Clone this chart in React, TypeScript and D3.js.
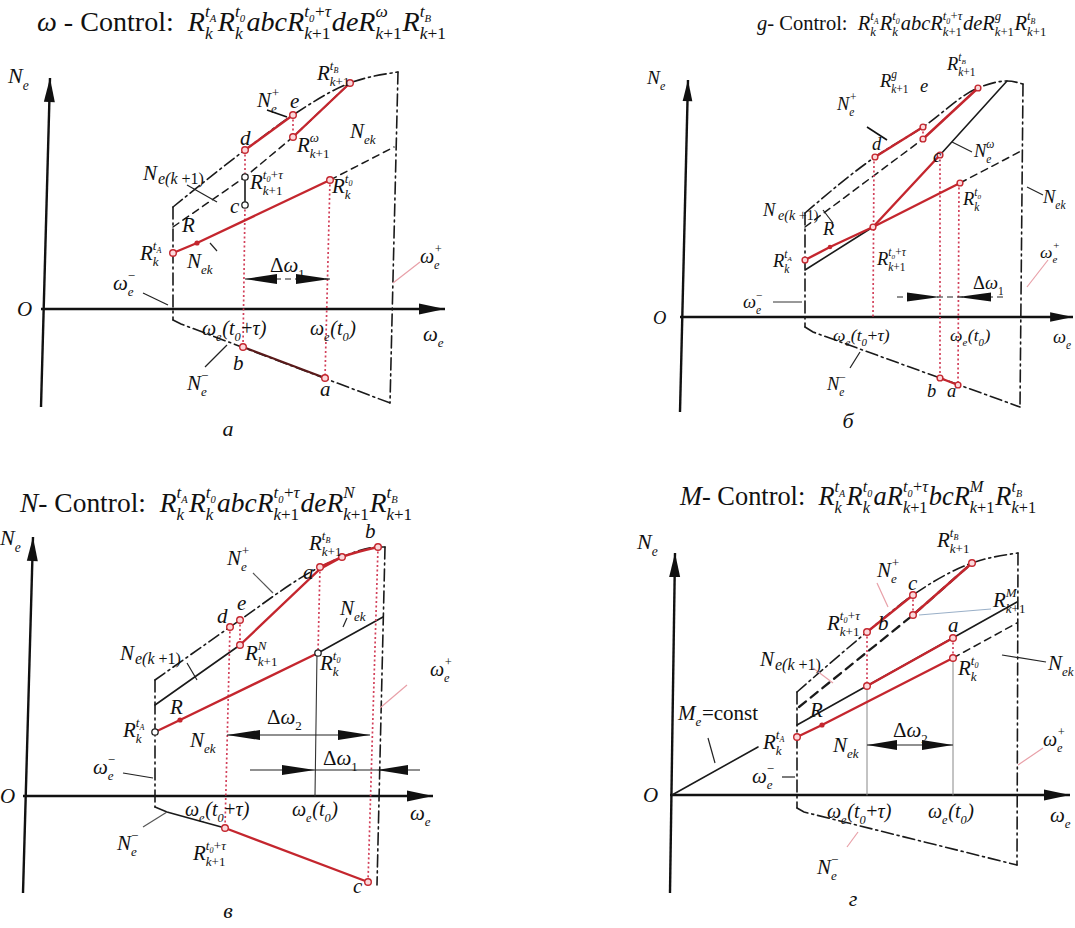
import React from 'react';
import * as d3 from 'd3';

type P = [number, number];

// ---------------- Panel а : ω-control (values in ω / N units, origin = O) ----------------
const A_upper: P[] = [[130, 102], [202, 159], [250, 194], [307, 226], [355, 237]];
const A_leftB: P[] = [[130, 102], [130, -11]];
const A_rightB: P[] = [[355, 237], [347, -94]];
const A_lower: P[] = [[130, -11], [138, -15], [347, -94]];
const A_next: P[] = [[130, 82], [202, 132], [250, 172], [307, 226]];
const A_nek: P[] = [[130, 56], [154, 66], [287, 129]];
const A_nekTail: P[] = [[287, 129], [351, 162]];
const A_redDE: P[] = [[202, 159], [250, 194]];
const A_redW: P[] = [[250, 172], [307, 226]];
const A_redBA: P[] = [[200, -38], [282, -69]];
const A_cR: P[] = [[202, 104], [202, 132]];
const A_dots: P[][] = [[[202, 159], [202, 132]], [[202, 104], [200, -38]], [[287, 129], [282, -69]], [[250, 194], [250, 172]]];
const A_openRed: P[] = [[130, 56], [287, 129], [202, 159], [250, 194], [250, 172], [307, 226], [200, -38], [282, -69]];
const A_openBlack: P[] = [[202, 104], [202, 132]];
const A_filled: P[] = [[154, 66]];

// ---------------- Panel б : g-control ----------------
const B_upper: P[] = [[122, 104], [192, 160], [240, 190], [295, 229], [324, 236], [340, 233]];
const B_leftB: P[] = [[122, 104], [122, -10]];
const B_rightB: P[] = [[340, 233], [337, -90]];
const B_lower: P[] = [[122, -10], [130, -15], [337, -90]];
const B_next: P[] = [[122, 90], [240, 178], [295, 229]];
const B_gRed: P[] = [[190, 90], [257, 162]];
const B_gBlack: P[] = [[257, 162], [324, 236]];
const B_nekRed: P[] = [[122, 57], [147, 70], [190, 90], [277, 134]];
const B_nekBlack: P[] = [[122, 47], [190, 90]];
const B_nekTail: P[] = [[277, 134], [340, 167]];
const B_redDE: P[] = [[192, 160], [240, 190]];
const B_redG: P[] = [[240, 178], [295, 229]];
const B_redBA: P[] = [[257, -61], [275, -68]];
const B_dots: P[][] = [[[191, 160], [190, 0]], [[257, 162], [257, -61]], [[276, 134], [275, -68]], [[240, 190], [240, 178]]];
const B_openRed: P[] = [[122, 57], [190, 90], [277, 134], [257, 162], [192, 160], [240, 190], [240, 178], [295, 229], [257, -61], [275, -68]];
const B_filled: P[] = [[147, 70]];

// ---------------- Panel в : N-control ----------------
const C_upper: P[] = [[130, 116], [205, 169], [215, 176], [295, 229], [317, 239], [353, 249], [360, 249]];
const C_leftB: P[] = [[130, 116], [130, -11]];
const C_rightB: P[] = [[360, 249], [352, -89]];
const C_lowerBlack: P[] = [[130, -11], [142, -16], [200, -32]];
const C_lowerRed: P[] = [[200, -32], [343, -86]];
const C_next: P[] = [[130, 91], [215, 151]];
const C_nextRed: P[] = [[215, 151], [295, 227], [317, 239]];
const C_upperRed: P[] = [[295, 229], [317, 239], [353, 249]];
const C_nekRed: P[] = [[130, 64], [155, 76], [293, 143]];
const C_nekTail: P[] = [[293, 143], [358, 179]];
const C_tick: P[] = [[292, 143], [290, 0]];
const C_dots: P[][] = [[[205, 169], [200, -32]], [[215, 176], [215, 151]], [[295, 229], [293, 143]], [[353, 249], [343, -86]]];
const C_openRed: P[] = [[295, 229], [317, 239], [353, 249], [343, -86], [200, -32], [205, 169], [215, 176], [215, 151]];
const C_openBlack: P[] = [[130, 64], [293, 143]];
const C_filled: P[] = [[155, 76]];

// ---------------- Panel г : M-control ----------------
const D_upper: P[] = [[125, 103], [195, 163], [241, 200], [300, 232], [346, 242]];
const D_leftB: P[] = [[125, 103], [125, -13]];
const D_rightB: P[] = [[346, 242], [345, -70]];
const D_lower: P[] = [[125, -13], [132, -17], [345, -70]];
const D_next: P[] = [[127, 88], [241, 180], [300, 232]];
const D_meLow: P[] = [[0, 0], [86, 48]];
const D_meHigh: P[] = [[125, 70], [345, 193]];
const D_meRed: P[] = [[195, 109], [281, 157]];
const D_nekRed: P[] = [[125, 58], [150, 70], [281, 137]];
const D_nekTail: P[] = [[281, 137], [345, 172]];
const D_redBC: P[] = [[195, 163], [241, 200]];
const D_redM: P[] = [[241, 180], [300, 232]];
const D_dots: P[][] = [[[195, 163], [195, 109]], [[241, 200], [241, 180]], [[281, 157], [281, 137]]];
const D_ticks: P[][] = [[[195, 109], [195, 0]], [[281, 137], [281, 0]]];
const D_openRed: P[] = [[125, 58], [281, 137], [281, 157], [195, 109], [195, 163], [241, 200], [241, 180], [300, 232]];
const D_filled: P[] = [[150, 70]];

// ---------------- Titles ----------------
const TITLES = [
  'ω| - Control:  |R_k^{t_A}R_k^{t_0}abcR_{k|+1|}^{t_0|+|τ}deR_{k|+1|}^ωR_{k|+1|}^{t_B}',
  'g|- Control:  |R_k^{t_A}R_k^{t_0}abcR_{k|+1|}^{t_0|+|τ}deR_{k|+1|}^gR_{k|+1|}^{t_B}',
  'N|- Control:  |R_k^{t_A}R_k^{t_0}abcR_{k|+1|}^{t_0|+|τ}deR_{k|+1|}^NR_{k|+1|}^{t_B}',
  'M|- Control:  |R_k^{t_A}R_k^{t_0}aR_{k|+1|}^{t_0|+|τ}bcR_{k|+1|}^MR_{k|+1|}^{t_B}',
];
const PANEL_LETTERS = ['а', 'б', 'в', 'г'];

// ---------------- rendering helpers ----------------
const FONT = '"Liberation Serif","Times New Roman",serif';
const RED = '#c4262e';

let _ctx: CanvasRenderingContext2D | null = null;
function measure(t: string, size: number, italic: boolean) {
  if (!_ctx) _ctx = document.createElement('canvas').getContext('2d');
  _ctx!.font = `${italic ? 'italic ' : ''}${size}px "Liberation Serif"`;
  return _ctx!.measureText(t).width;
}

type Run = { x: number; y: number; size: number; text: string; italic: boolean };
function layout(src: string, x: number, y: number, size: number, italic0: boolean, out: Run[]): number {
  let i = 0;
  let italic = italic0;
  while (i < src.length) {
    const ch = src[i];
    if (ch === '|') { italic = !italic; i++; continue; }
    if (ch === '_' || ch === '^') {
      let sub: string | null = null;
      let sup: string | null = null;
      while (i < src.length && (src[i] === '_' || src[i] === '^')) {
        const kind = src[i]; i++;
        let g: string;
        if (src[i] === '{') {
          let depth = 1; let j = i + 1;
          while (j < src.length && depth > 0) { if (src[j] === '{') depth++; else if (src[j] === '}') depth--; j++; }
          g = src.slice(i + 1, j - 1); i = j;
        } else { g = src[i]; i++; }
        if (kind === '_') sub = g; else sup = g;
      }
      const s2 = size * 0.62;
      let w1 = 0, w2 = 0;
      if (sup !== null) w1 = layout(sup, x, y - size * 0.5, s2, italic, out) - x;
      if (sub !== null) w2 = layout(sub, x, y + size * 0.3, s2, italic, out) - x;
      x += Math.max(w1, w2) + size * 0.03;
      continue;
    }
    let j = i;
    while (j < src.length && !'_^|'.includes(src[j])) j++;
    const t = src.slice(i, j);
    out.push({ x, y, size, text: t, italic });
    x += measure(t, size, italic);
    i = j;
  }
  return x;
}

function MathText({ x, y, t, size, italic = true, anchor = 'start', fill = '#111', fitWidth }:
  { x: number; y: number; t: string; size: number; italic?: boolean; anchor?: string; fill?: string; fitWidth?: number }) {
  let s = size;
  if (fitWidth) {
    const probe: Run[] = [];
    const w = layout(t, 0, 0, 20, italic, probe);
    s = (20 * fitWidth) / w;
  }
  const runs: Run[] = [];
  const end = layout(t, 0, 0, s, italic, runs);
  const shift = anchor === 'middle' ? -end / 2 : anchor === 'end' ? -end : 0;
  return (
    <g>
      {runs.map((r, i) => (
        <text key={i} x={x + r.x + shift} y={y + r.y} fontSize={r.size} fontStyle={r.italic ? 'italic' : 'normal'}
          fontFamily={FONT} fill={fill} style={{ whiteSpace: 'pre' }}>{r.text}</text>
      ))}
    </g>
  );
}

const STY: Record<string, { stroke: string; w: number; da?: string }> = {
  red: { stroke: RED, w: 2.4 },
  dark: { stroke: '#5a1a1a', w: 2.2 },
  black: { stroke: '#1a1a1a', w: 1.6 },
  thin: { stroke: '#333', w: 1.1 },
  gray: { stroke: '#888', w: 1 },
  dash: { stroke: '#1a1a1a', w: 1.5, da: '7,5' },
  bdash: { stroke: '#1a1a1a', w: 2.3, da: '9,6' },
  dashdot: { stroke: '#1a1a1a', w: 1.6, da: '12,4,2,4' },
  dot: { stroke: '#d2405a', w: 1.7, da: '2,2.5' },
};

type Seg = { pts: P[]; k: string; curve?: boolean };
type Lab = [string, number, number, number?, string?];
type Lead = [P, P, string?, number?];
type Arw = { n: number; from: number; to: number; heads: [number, number][]; dash?: boolean };
type Spec = {
  origin: [number, number];
  scale: number;
  yaxis: P[];
  xStart: number;
  xTip: number;
  segs: Seg[];
  openRed: P[];
  openBlack: P[];
  filled: P[];
  labels: Lab[];
  leaders: Lead[];
  arrows: Arw[];
  title: string;
  titleAt: [number, number, number];
  letter: string;
  letterAt: P;
};

function Panel({ spec }: { spec: Spec }) {
  const [ox, oy] = spec.origin;
  const k = spec.scale;
  const sx = d3.scaleLinear().domain([0, 100]).range([ox, ox + 100]);
  const sy = d3.scaleLinear().domain([0, 100]).range([oy, oy - 100]);
  const straight = d3.line<P>().x(d => sx(d[0])).y(d => sy(d[1]));
  const smooth = d3.line<P>().x(d => sx(d[0])).y(d => sy(d[1])).curve(d3.curveMonotoneX);

  const head = (tipX: number, tipY: number, fromX: number, fromY: number, len: number, hw: number) => {
    const dx = tipX - fromX, dy = tipY - fromY;
    const L = Math.hypot(dx, dy);
    const ux = dx / L, uy = dy / L;
    const bx = tipX - ux * len, by = tipY - uy * len;
    return `M${tipX},${tipY}L${bx - uy * hw},${by + ux * hw}L${bx + uy * hw},${by - ux * hw}Z`;
  };

  const [yb, yt] = [spec.yaxis[1], spec.yaxis[0]];
  const ytx = sx(yt[0]), yty = sy(yt[1]), ybx = sx(yb[0]), yby = sy(yb[1]);
  const xs = sx(spec.xStart), xt = sx(spec.xTip), xy = sy(0);

  return (
    <g>
      <MathText x={spec.titleAt[0]} y={spec.titleAt[1]} t={spec.title} size={22} fitWidth={spec.titleAt[2]} />
      {/* axes */}
      <line x1={ybx} y1={yby} x2={ytx} y2={yty} stroke="#111" strokeWidth={2.4} />
      <path d={head(ytx, yty, ybx, yby, 24 * k, 5.5 * k)} fill="#111" />
      <line x1={xs} y1={xy} x2={xt} y2={xy} stroke="#111" strokeWidth={2.4} />
      <path d={head(xt, xy, xs, xy, 26 * k, 5.5 * k)} fill="#111" />
      {/* curves */}
      {spec.segs.map((s, i) => {
        const st = STY[s.k];
        return (
          <path key={i} d={(s.curve ? smooth : straight)(s.pts) || ''} fill="none" stroke={st.stroke}
            strokeWidth={st.w} strokeDasharray={st.da} strokeLinecap={s.k === 'dot' ? 'butt' : 'round'} />
        );
      })}
      {/* Δω arrows */}
      {spec.arrows.map((a, i) => (
        <g key={i}>
          <line x1={sx(a.from)} y1={sy(a.n)} x2={sx(a.to)} y2={sy(a.n)} stroke="#222" strokeWidth={1.2}
            strokeDasharray={a.dash ? '6,4' : undefined} />
          {a.heads.map((h, j) => (
            <path key={j} d={head(sx(h[0]), sy(a.n), sx(h[1]), sy(a.n), Math.abs(sx(h[0]) - sx(h[1])), 5 * k)} fill="#111" />
          ))}
        </g>
      ))}
      {/* leaders */}
      {spec.leaders.map((l, i) => (
        <line key={i} x1={sx(l[0][0])} y1={sy(l[0][1])} x2={sx(l[1][0])} y2={sy(l[1][1])}
          stroke={l[2] || '#222'} strokeWidth={l[3] || 1.2} />
      ))}
      {/* points */}
      {spec.openBlack.map((p, i) => (
        <circle key={'b' + i} cx={sx(p[0])} cy={sy(p[1])} r={3.2 * k} fill="#fff" stroke="#222" strokeWidth={1.3} />
      ))}
      {spec.openRed.map((p, i) => (
        <circle key={'r' + i} cx={sx(p[0])} cy={sy(p[1])} r={3.3 * k} fill="#fbd9dc" stroke={RED} strokeWidth={1.4} />
      ))}
      {spec.filled.map((p, i) => (
        <circle key={'f' + i} cx={sx(p[0])} cy={sy(p[1])} r={2.6 * k} fill={RED} />
      ))}
      {/* labels */}
      {spec.labels.map((l, i) => (
        <MathText key={i} x={sx(l[1])} y={sy(l[2])} t={l[0]} size={(l[3] || 21) * k} anchor={l[4] || 'start'} />
      ))}
      <MathText x={sx(spec.letterAt[0])} y={sy(spec.letterAt[1])} t={spec.letter} size={22} anchor="middle" />
    </g>
  );
}

const SUPK = 'R_{k|+1|}';

const PANELS: Spec[] = [
  {
    origin: [43, 309], scale: 1, yaxis: [[7, 231], [-2, -98]], xStart: -2, xTip: 402,
    segs: [
      { pts: A_upper, k: 'dashdot', curve: true },
      { pts: A_leftB, k: 'dashdot' }, { pts: A_rightB, k: 'dashdot' }, { pts: A_lower, k: 'dashdot' },
      { pts: A_next, k: 'dash' }, { pts: A_nekTail, k: 'dash' },
      ...A_dots.map(p => ({ pts: p, k: 'dot' })),
      { pts: A_nek, k: 'red' }, { pts: A_redDE, k: 'red' }, { pts: A_redW, k: 'red' },
      { pts: A_redBA, k: 'dark' }, { pts: A_cR, k: 'black' },
    ],
    openRed: A_openRed, openBlack: A_openBlack, filled: A_filled,
    arrows: [{ n: 30, from: 202, to: 287, heads: [[202, 234], [287, 253]], dash: true }],
    leaders: [
      [[224, 199], [244, 192], '#111', 1.6], [[144, 124], [174, 107]], [[100, 16], [125, 4]],
      [[350, 26], [377, 47], '#e8a0a8'], [[162, -58], [184, -36]], [[167, 66], [174, 58]],
    ],
    labels: [
      ['N_e', -35, 226, 22], [SUPK + '^{t_B}', 274, 229], ['N_e^+', 214, 202], ['e', 247, 201], ['d', 197, 164],
      [SUPK + '^ω', 254, 157], ['N_{ek}', 307, 171], ['N', 100, 129], ['e(k |+1)', 115, 125, 16],
      [SUPK + '^{t_0|+|τ}', 207, 120], ['c', 187, 96], ['R_k^{t_0}', 289, 116], ['R', 139, 77],
      ['R_k^{t_A}', 97, 49], ['N_{ek}', 144, 41], ['|Δ|ω_{|1}', 227, 37], ['ω_e^{|−}', 70, 19], ['O', -26, -7],
      ['ω_e(t_0|+|τ)', 159, -26, 20], ['ω_e(t_0)', 267, -26, 20], ['ω_e', 380, -32], ['ω_e^+', 377, 46, 20],
      ['N_e^{|−}', 144, -81], ['b', 190, -61], ['a', 277, -87],
    ],
    title: TITLES[0], titleAt: [37, 31, 410], letter: PANEL_LETTERS[0], letterAt: [185, -127],
  },
  {
    origin: [683, 317], scale: 0.88, yaxis: [[5, 237], [-3, -95]], xStart: -3, xTip: 390,
    segs: [
      { pts: B_upper, k: 'dashdot', curve: true },
      { pts: B_leftB, k: 'dashdot' }, { pts: B_rightB, k: 'dashdot' }, { pts: B_lower, k: 'dashdot' },
      { pts: B_next, k: 'dash' }, { pts: B_nekTail, k: 'dash' }, { pts: B_gBlack, k: 'black' }, { pts: B_nekBlack, k: 'black' },
      ...B_dots.map(p => ({ pts: p, k: 'dot' })),
      { pts: B_nekRed, k: 'red' }, { pts: B_gRed, k: 'red' }, { pts: B_redDE, k: 'red' }, { pts: B_redG, k: 'red' },
      { pts: B_redBA, k: 'red' },
    ],
    openRed: B_openRed, openBlack: [], filled: B_filled,
    arrows: [{ n: 20, from: 214, to: 322, heads: [[257, 224], [275, 308]], dash: true }],
    leaders: [
      [[184, 190], [204, 177], '#111', 1.6], [[269, 175], [289, 165]], [[140, 107], [150, 94]], [[344, 130], [360, 122]],
      [[90, 15], [119, 15], '#333', 1], [[344, 30], [365, 57], '#e8a0a8'], [[167, -51], [177, -35]],
    ],
    labels: [
      ['N_e', -36, 233, 22], [SUPK + '^{t_B}', 264, 247], [SUPK + '^g', 197, 230], ['e', 237, 225], ['N_e^+', 154, 207],
      ['d', 189, 167], ['N_e^ω', 291, 160], ['c', 250, 155], ['N', 80, 101], ['e(k |+1)', 95, 97, 16],
      ['N_{ek}', 360, 114], ['R_k^{t_0}', 280, 112], ['R', 140, 82], ['R_k^{t_A}', 90, 50],
      [SUPK + '^{t_0|+|τ}', 194, 52], ['|Δ|ω_{|1}', 290, 28], ['ω_e^{|−}', 60, 9], ['O', -30, -7],
      ['ω_e(t_0|+|τ)', 150, -24, 20], ['ω_e(t_0)', 267, -24, 20], ['ω_e', 370, -26], ['ω_e^+', 357, 59, 20],
      ['N_e^{|−}', 144, -73], ['b', 244, -80], ['a', 264, -80],
    ],
    title: TITLES[1], titleAt: [757, 30, 290], letter: PANEL_LETTERS[1], letterAt: [165, -111],
  },
  {
    origin: [25, 796], scale: 1, yaxis: [[8, 259], [-2, -97]], xStart: -2, xTip: 408,
    segs: [
      { pts: C_upper, k: 'dashdot', curve: true },
      { pts: C_leftB, k: 'dashdot' }, { pts: C_rightB, k: 'dashdot' },
      { pts: C_lowerBlack, k: 'black' }, { pts: C_next, k: 'black' }, { pts: C_nekTail, k: 'black' }, { pts: C_tick, k: 'thin' },
      ...C_dots.map(p => ({ pts: p, k: 'dot' })),
      { pts: C_lowerRed, k: 'red' }, { pts: C_nextRed, k: 'red' }, { pts: C_upperRed, k: 'red', curve: true }, { pts: C_nekRed, k: 'red' },
    ],
    openRed: C_openRed, openBlack: C_openBlack, filled: C_filled,
    arrows: [
      { n: 61, from: 202, to: 345, heads: [[202, 235], [345, 313]] },
      { n: 26, from: 225, to: 395, heads: [[290, 257], [352, 383]] },
    ],
    leaders: [
      [[228, 223], [248, 203], '#555'], [[322, 178], [318, 169]], [[162, 133], [172, 116]],
      [[355, 88], [382, 111], '#e8a0a8'], [[98, 23], [128, 18]], [[118, -31], [142, -16], '#555'],
    ],
    labels: [
      ['N_e', -25, 251, 22], [SUPK + '^{t_B}', 284, 246], ['b', 340, 258], ['a', 278, 217], ['N_e^+', 202, 231],
      ['d', 192, 173], ['e', 212, 186], ['N_{ek}', 315, 181], ['N', 95, 136], ['e(k |+1)', 110, 132, 16],
      [SUPK + '^N', 220, 136], ['R_k^{t_0}', 295, 126], ['ω_e^+', 405, 120, 20], ['R', 145, 82],
      ['R_k^{t_A}', 98, 59], ['N_{ek}', 165, 49], ['|Δ|ω_{|2}', 242, 72], ['|Δ|ω_{|1}', 298, 31],
      ['ω_e^{|−}', 68, 22], ['O', -25, -7], ['ω_e(t_0|+|τ)', 160, -20, 20], ['ω_e(t_0)', 267, -20, 20],
      ['ω_e', 385, -24], ['N_e^{|−}', 92, -54], [SUPK + '^{t_0|+|τ}', 168, -64], ['c', 328, -97],
    ],
    title: TITLES[2], titleAt: [20, 512, 393], letter: PANEL_LETTERS[2], letterAt: [203, -122],
  },
  {
    origin: [672, 795], scale: 1, yaxis: [[3, 242], [-2, -98]], xStart: -2, xTip: 398,
    segs: [
      { pts: D_upper, k: 'dashdot', curve: true },
      { pts: D_leftB, k: 'dashdot' }, { pts: D_rightB, k: 'dashdot' }, { pts: D_lower, k: 'dashdot' },
      { pts: D_next, k: 'bdash' }, { pts: D_nekTail, k: 'dash' },
      { pts: D_meLow, k: 'black' }, { pts: D_meHigh, k: 'black' },
      ...D_ticks.map(p => ({ pts: p, k: 'gray' })),
      ...D_dots.map(p => ({ pts: p, k: 'dot' })),
      { pts: D_meRed, k: 'red' }, { pts: D_nekRed, k: 'red' }, { pts: D_redBC, k: 'red' }, { pts: D_redM, k: 'red' },
    ],
    openRed: D_openRed, openBlack: [], filled: D_filled,
    arrows: [{ n: 50, from: 195, to: 281, heads: [[195, 225], [281, 250]] }],
    leaders: [
      [[205, 212], [216, 188], '#e8a0a8'], [[319, 186], [247, 180], '#9ab0c8'], [[141, 127], [161, 112], '#e8a0a8'],
      [[330, 140], [374, 133]], [[43, 32], [36, 57]], [[346, 30], [371, 47], '#e8a0a8'], [[110, 18], [123, 18]],
      [[186, -37], [175, -52], '#e8a0a8'],
    ],
    labels: [
      ['N_e', -35, 246, 22], [SUPK + '^{t_B}', 265, 248], ['N_e^+', 205, 218], ['c', 236, 205], [SUPK + '^M', 321, 188],
      ['b', 206, 165], [SUPK + '^{t_0|+|τ}', 155, 165], ['a', 276, 163], ['N', 88, 129], ['e(k |+1)', 103, 125, 16],
      ['N_{ek}', 376, 125], ['R_k^{t_0}', 286, 120], ['M_e|=const', 6, 75], ['R', 138, 78], ['R_k^{t_A}', 91, 46],
      ['N_{ek}', 161, 43], ['|Δ|ω_{|2}', 221, 58], ['ω_e^+', 371, 49, 20], ['ω_e^{|−}', 80, 12], ['O', -29, -7],
      ['ω_e(t_0|+|τ)', 155, -23, 20], ['ω_e(t_0)', 256, -23, 20], ['ω_e', 378, -27], ['N_e^{|−}', 145, -79],
    ],
    title: TITLES[3], titleAt: [680, 505, 357], letter: PANEL_LETTERS[3], letterAt: [181, -111],
  },
];

export default function App() {
  return (
    <svg width={1075} height={928} viewBox="0 0 1075 928"
      style={{ position: 'absolute', left: 0, top: 0, background: '#fff', display: 'block' }}>
      <rect x={0} y={0} width={1075} height={928} fill="#fff" />
      {PANELS.map((p, i) => <Panel key={i} spec={p} />)}
    </svg>
  );
}
